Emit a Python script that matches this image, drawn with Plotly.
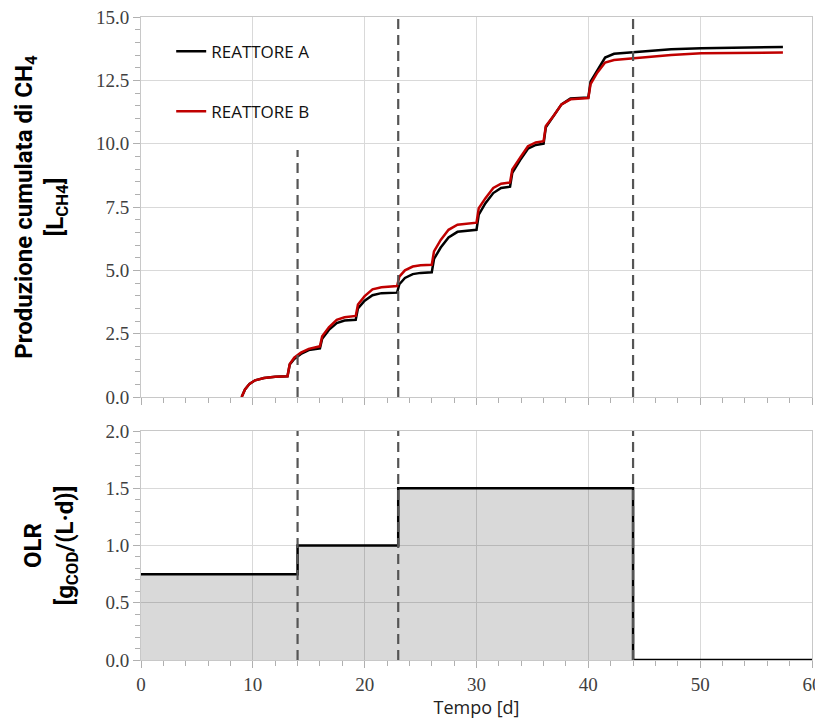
import plotly.graph_objects as go

# ---------------- data ----------------
days_cum = [9.0, 9.3, 9.7, 10.2, 11.0, 12.0, 13.1, 13.3, 13.7, 14.3, 15.0, 16.0,
            16.2, 16.8, 17.5, 18.2, 19.2, 19.4, 20.0, 20.7, 21.5, 22.9,
            23.1, 23.6, 24.3, 25.0, 26.0, 26.2, 26.8, 27.5, 28.3, 30.0,
            30.2, 30.8, 31.5, 32.2, 33.0, 33.2, 33.9, 34.6, 35.3, 36.0,
            36.2, 36.9, 37.6, 38.4, 40.0, 40.2, 40.8, 41.5, 42.3, 44.0,
            45.5, 47.4, 50.1, 55.5, 57.4]

reattore_a = [0.0, 0.30, 0.52, 0.66, 0.75, 0.80, 0.82, 1.28, 1.50, 1.70, 1.85, 1.92,
              2.30, 2.65, 2.92, 3.02, 3.05, 3.50, 3.80, 4.02, 4.10, 4.12,
              4.45, 4.70, 4.85, 4.90, 4.92, 5.45, 5.90, 6.30, 6.52, 6.60,
              7.20, 7.65, 8.05, 8.25, 8.30, 8.85, 9.35, 9.80, 9.95, 10.00,
              10.65, 11.10, 11.55, 11.78, 11.82, 12.45, 12.90, 13.40, 13.55, 13.62,
              13.66, 13.73, 13.77, 13.80, 13.82]

reattore_b = [0.0, 0.30, 0.52, 0.66, 0.75, 0.80, 0.82, 1.30, 1.55, 1.75, 1.90, 2.00,
              2.40, 2.75, 3.05, 3.15, 3.20, 3.65, 3.98, 4.25, 4.33, 4.38,
              4.75, 5.00, 5.15, 5.20, 5.22, 5.75, 6.20, 6.60, 6.80, 6.88,
              7.45, 7.85, 8.25, 8.42, 8.47, 8.98, 9.45, 9.90, 10.05, 10.10,
              10.70, 11.10, 11.55, 11.75, 11.80, 12.35, 12.80, 13.20, 13.30, 13.37,
              13.44, 13.50, 13.57, 13.60, 13.60]

olr_days = [0, 14, 23, 44, 60]
olr_values = [0.75, 1.0, 1.5, 0.0, 0.0]

phase_days = [14, 23, 44]
# top extent of each phase marker in the upper panel (first one is hidden behind legend)
phase_top_upper = [9.75, 15.0, 15.0]

x_ticks = [0, 10, 20, 30, 40, 50, 60]
y1_ticks = [0.0, 2.5, 5.0, 7.5, 10.0, 12.5, 15.0]
y2_ticks = [0.0, 0.5, 1.0, 1.5, 2.0]

# ---------------- figure ----------------
fig = go.Figure()

fig.add_trace(go.Scatter(x=days_cum, y=reattore_a, mode="lines", name="REATTORE A",
                         line=dict(color="#000000", width=2.5), legendgroup="a",
                         xaxis="x", yaxis="y"))
fig.add_trace(go.Scatter(x=days_cum, y=reattore_b, mode="lines", name="REATTORE B",
                         line=dict(color="#c00000", width=2.5), legendgroup="b",
                         xaxis="x", yaxis="y"))

fig.add_trace(go.Scatter(x=olr_days, y=olr_values, mode="lines", line_shape="hv",
                         fill="tozeroy", fillcolor="rgba(0,0,0,0.15)",
                         line=dict(color="#000000", width=2.5), showlegend=False,
                         xaxis="x2", yaxis="y2"))

dash_style = dict(color="#555555", width=2.2, dash="10px,6px")
for d, top in zip(phase_days, phase_top_upper):
    fig.add_shape(type="line", xref="x", yref="y", x0=d, x1=d, y0=0, y1=top,
                  line=dash_style, layer="above")
    fig.add_shape(type="line", xref="x2", yref="y2", x0=d, x1=d, y0=0, y1=2.0,
                  line=dash_style, layer="above")

tick_font = dict(family="Liberation Serif", size=19, color="#404040")
axis_common = dict(showgrid=True, gridcolor="#d9d9d9", gridwidth=1,
                   showline=True, linecolor="#c8c8c8", linewidth=1, mirror=True,
                   ticks="outside", ticklen=7, tickcolor="#b0b0b0",
                   tickfont=tick_font, zeroline=False, automargin=False,
                   ticklabeloverflow="allow")

fig.update_layout(
    width=815, height=715,
    margin=dict(l=133, r=11, t=9, b=63),
    paper_bgcolor="white", plot_bgcolor="white",
    xaxis=dict(domain=[0, 1], anchor="y", range=[0, 60], tickvals=x_ticks,
               showticklabels=False,
               minor=dict(dtick=2, ticks="outside", ticklen=5, tickcolor="#b0b0b0", showgrid=False),
               **axis_common),
    yaxis=dict(domain=[0.409, 1], anchor="x", range=[0, 15], tickvals=y1_ticks,
               tickformat=".1f",
               minor=dict(dtick=0.5, ticks="outside", ticklen=5, tickcolor="#b0b0b0", showgrid=False),
               title=dict(text="<b>Produzione cumulata di CH<sub>4</sub><br>[L<sub>CH4</sub>]</b>",
                          font=dict(family="Roboto", size=24, color="black"), standoff=25),
               **axis_common),
    xaxis2=dict(domain=[0, 1], anchor="y2", range=[0, 60], tickvals=x_ticks,
                matches="x",
                minor=dict(dtick=2, ticks="outside", ticklen=5, tickcolor="#b0b0b0", showgrid=False),
                title=dict(text="Tempo [d]", font=dict(family="Open Sans", size=18, color="#222"),
                           standoff=3),
                **axis_common),
    yaxis2=dict(domain=[0, 0.356], anchor="x2", range=[0, 2], tickvals=y2_ticks,
                tickformat=".1f",
                minor=dict(dtick=0.1, ticks="outside", ticklen=5, tickcolor="#b0b0b0", showgrid=False),
                title=dict(text="<b>OLR<br>[g<sub>COD</sub>/(L·d)]</b>",
                           font=dict(family="Roboto", size=24, color="black"), standoff=25),
                **axis_common),
    legend=dict(x=0.045, y=0.974, xanchor="left", yanchor="top",
                bgcolor="rgba(255,255,255,0)", tracegroupgap=35,
                font=dict(family="Open Sans", size=17, color="#111")),
    showlegend=True,
)

fig.write_html("out.html")
